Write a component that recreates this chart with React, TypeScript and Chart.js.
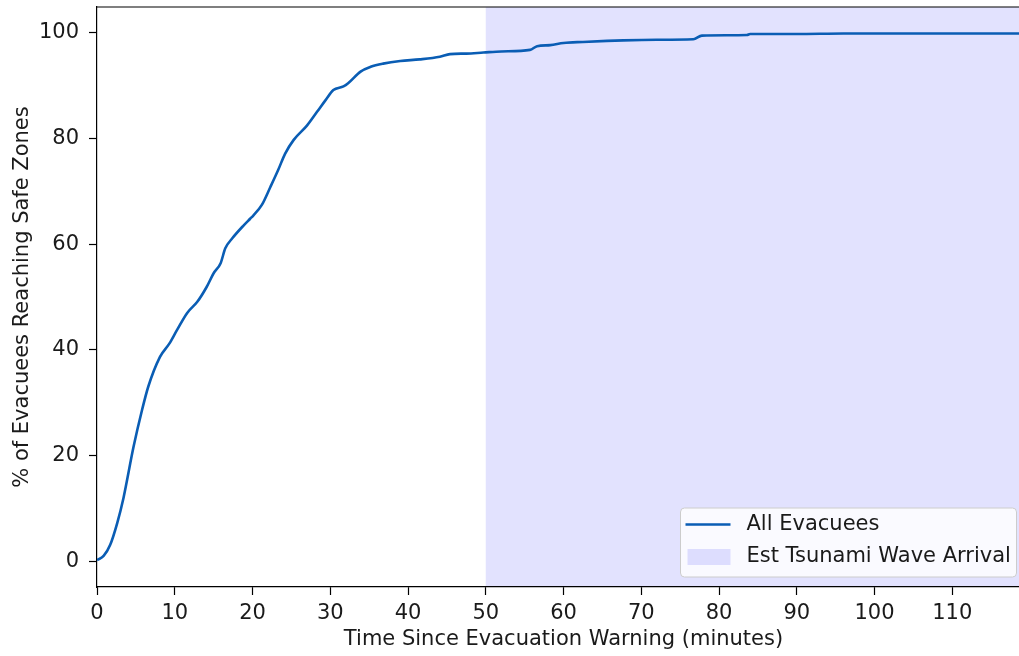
import React, { useEffect, useRef } from "react";
import { Chart, registerables } from "chart.js";

Chart.register(...registerables);

// ---- data ----
const TIME_MIN = [
  0, 0.85, 1.7, 2.6, 3.4, 4.7, 5.8, 6.6, 8.1, 9.3, 10.3, 11.6, 12.9, 14.1, 15.0,
  15.9, 16.5, 17.4, 18.9, 19.7, 20.1, 21.2, 22.3, 23.3, 24.2, 25.3, 27.0, 28.3,
  29.4, 30.4, 31.7, 32.3, 33.9, 35.2, 36.8, 39.0, 41.5, 44.1, 45.4, 47.5, 49.7,
  52.0, 55.7, 56.6, 58.3, 60.0, 62.5, 65.6, 67.7, 72.0, 76.7, 77.8, 83.6, 84.0,
  90.0, 96.0, 105.0, 119.9,
];
const PCT_REACHED = [
  0.3, 1.1, 3.2, 7.3, 12.0, 21.7, 28.7, 33.1, 38.7, 41.2, 43.8, 47.0, 49.1, 51.9,
  54.5, 56.4, 59.2, 61.1, 63.6, 64.8, 65.4, 67.4, 70.8, 74.0, 77.1, 79.7, 82.4,
  85.0, 87.2, 89.1, 89.8, 90.4, 92.6, 93.5, 94.1, 94.6, 94.9, 95.4, 95.9, 96.0,
  96.2, 96.4, 96.7, 97.4, 97.6, 98.0, 98.2, 98.4, 98.5, 98.6, 98.7, 99.4, 99.5,
  99.7, 99.7, 99.8, 99.8, 99.8,
];
const WAVE_ARRIVAL_MIN = 50;
const X_LIMITS = [0, 120];
const Y_LIMITS = [-4.78, 104.8];
const X_TICK_STEP = 10;
const Y_TICK_STEP = 20;
const SERIES_LABEL = "All Evacuees";
const SPAN_LABEL = "Est Tsunami Wave Arrival";
const X_TITLE = "Time Since Evacuation Warning (minutes)";
const Y_TITLE = "% of Evacuees Reaching Safe Zones";

// ---- styles ----
const LINE_COLOR = "#0a5db4";
const SPAN_COLOR = "rgba(0,0,250,0.115)";
const TEXT_COLOR = "#1a1a1a";
const FONT_FAMILY = "'DejaVu Sans', sans-serif";
const FONT_SIZE = 21;

const spanPlugin = {
  id: "waveSpan",
  beforeDraw(chart: any) {
    const { ctx, chartArea, scales } = chart;
    const x0 = scales.x.getPixelForValue(WAVE_ARRIVAL_MIN);
    ctx.save();
    ctx.fillStyle = SPAN_COLOR;
    ctx.fillRect(x0, chartArea.top, chartArea.right - x0, chartArea.bottom - chartArea.top);
    ctx.restore();
  },
};

const framePlugin = {
  id: "frame",
  afterDatasetsDraw(chart: any) {
    const { ctx, chartArea } = chart;
    ctx.save();
    ctx.strokeStyle = "#000";
    ctx.lineWidth = 1.2;
    ctx.beginPath();
    ctx.moveTo(chartArea.left, chartArea.top);
    ctx.lineTo(chartArea.right, chartArea.top);
    ctx.lineTo(chartArea.right, chartArea.bottom);
    ctx.stroke();
    ctx.restore();
  },
};

const legendPlugin = {
  id: "cornerLegend",
  afterDraw(chart: any) {
    const { ctx, chartArea } = chart;
    const right = chartArea.right - 13.5;
    const bottom = chartArea.bottom - 10;
    const w = 336;
    const h = 69;
    const left = right - w;
    const top = bottom - h;
    ctx.save();
    ctx.beginPath();
    (ctx as any).roundRect(left, top, w, h, 4);
    ctx.fillStyle = "rgba(255,255,255,0.8)";
    ctx.fill();
    ctx.strokeStyle = "#cccccc";
    ctx.lineWidth = 1;
    ctx.stroke();

    const row1 = top + 16.5;
    const row2 = top + 49;
    // line swatch
    ctx.strokeStyle = LINE_COLOR;
    ctx.lineWidth = 2.6;
    ctx.beginPath();
    ctx.moveTo(left + 5, row1);
    ctx.lineTo(left + 50, row1);
    ctx.stroke();
    // patch swatch
    ctx.fillStyle = SPAN_COLOR;
    ctx.fillRect(left + 7, row2 - 8, 43, 16);

    ctx.fillStyle = TEXT_COLOR;
    ctx.font = `${FONT_SIZE}px ${FONT_FAMILY}`;
    ctx.textAlign = "left";
    ctx.textBaseline = "middle";
    ctx.fillText(SERIES_LABEL, left + 66, row1);
    ctx.fillText(SPAN_LABEL, left + 66, row2);
    ctx.restore();
  },
};

export default function App() {
  const canvasRef = useRef<HTMLCanvasElement | null>(null);

  useEffect(() => {
    const canvas = canvasRef.current;
    if (!canvas) return;
    const points = TIME_MIN.map((t, i) => ({ x: t, y: PCT_REACHED[i] }));
    const font = { family: FONT_FAMILY, size: FONT_SIZE };
    const chart = new Chart(canvas, {
      type: "line",
      data: {
        datasets: [
          {
            label: SERIES_LABEL,
            data: points,
            borderColor: LINE_COLOR,
            backgroundColor: LINE_COLOR,
            borderWidth: 2.6,
            pointRadius: 0,
            cubicInterpolationMode: "monotone",
            fill: false,
          },
        ],
      },
      options: {
        responsive: false,
        animation: false,
        devicePixelRatio: 1,
        layout: { padding: { top: 7, right: 1, left: 0, bottom: 0 } },
        plugins: {
          legend: { display: false },
          tooltip: { enabled: false },
          title: { display: false },
        },
        scales: {
          x: {
            type: "linear",
            min: X_LIMITS[0],
            max: X_LIMITS[1],
            grid: {
              drawOnChartArea: false,
              drawTicks: true,
              tickLength: 8,
              tickColor: "#000",
              tickWidth: 1.2,
            },
            border: { display: true, color: "#000", width: 1.2 },
            ticks: {
              stepSize: X_TICK_STEP,
              includeBounds: false,
              color: TEXT_COLOR,
              font,
              padding: 6,
              maxRotation: 0,
              autoSkip: false,
            },
            title: {
              display: true,
              text: X_TITLE,
              color: TEXT_COLOR,
              font,
              padding: { top: 0, bottom: 4 },
            },
            afterBuildTicks: (scale: any) => {
              scale.ticks = scale.ticks.filter(
                (t: any) => Math.abs(t.value % X_TICK_STEP) < 1e-6 && t.value < 119
              );
            },
            afterFit: (scale: any) => {
              scale.height = 69;
              scale.paddingLeft = 0;
              scale.paddingRight = 0;
            },
          },
          y: {
            type: "linear",
            min: Y_LIMITS[0],
            max: Y_LIMITS[1],
            grid: {
              drawOnChartArea: false,
              drawTicks: true,
              tickLength: 8,
              tickColor: "#000",
              tickWidth: 1.2,
            },
            border: { display: true, color: "#000", width: 1.2 },
            ticks: {
              stepSize: Y_TICK_STEP,
              includeBounds: false,
              color: TEXT_COLOR,
              font,
              padding: 10,
              autoSkip: false,
            },
            title: {
              display: true,
              text: Y_TITLE,
              color: TEXT_COLOR,
              font,
              padding: { top: 10, bottom: 0 },
            },
            afterBuildTicks: (scale: any) => {
              scale.ticks = scale.ticks.filter(
                (t: any) => Math.abs(t.value % Y_TICK_STEP) < 1e-6
              );
            },
            afterFit: (scale: any) => {
              scale.width = 97;
              scale.paddingTop = 0;
              scale.paddingBottom = 0;
            },
          },
        },
      } as any,
      plugins: [spanPlugin, framePlugin, legendPlugin],
    });
    return () => chart.destroy();
  }, []);

  return (
    <div
      style={{
        position: "absolute",
        left: 0,
        top: 0,
        width: 1019,
        height: 656,
        overflow: "hidden",
        background: "#fff",
      }}
    >
      <canvas ref={canvasRef} width={1031} height={656} style={{ display: "block" }} />
    </div>
  );
}
